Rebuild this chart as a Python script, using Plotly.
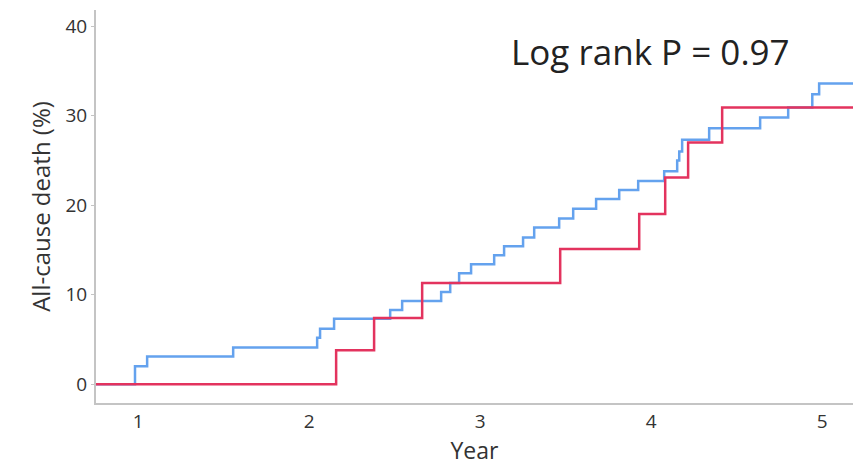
import plotly.graph_objects as go

# Cumulative all-cause death (%) by follow-up year, step points per group
blue_years = [0.0, 0.982, 1.053, 1.556, 2.047, 2.064, 2.146, 2.474, 2.544, 2.772, 2.825,
              2.877, 2.947, 3.082, 3.140, 3.251, 3.316, 3.462, 3.544, 3.678, 3.813,
              3.924, 4.076, 4.152, 4.164, 4.181, 4.339, 4.637, 4.801, 4.942, 4.982, 5.3]
blue_death = [0.0, 2.0, 3.1, 4.1, 5.2, 6.2, 7.3, 8.3, 9.3, 10.3, 11.3,
              12.4, 13.4, 14.4, 15.4, 16.4, 17.5, 18.5, 19.6, 20.7, 21.7,
              22.7, 23.8, 25.0, 26.0, 27.3, 28.6, 29.8, 30.9, 32.4, 33.6, 33.6]

red_years = [0.0, 2.158, 2.380, 2.661, 3.468, 3.930, 4.082, 4.216, 4.415, 5.3]
red_death = [0.0, 3.8, 7.4, 11.3, 15.1, 19.0, 23.1, 27.0, 30.9, 30.9]

x_ticks = [1, 2, 3, 4, 5]
y_ticks = [0, 10, 20, 30, 40]

BLUE = "#64a2ee"
RED = "#e3335e"
AXIS = "#c4c4c4"
TEXT = "#333333"

fig = go.Figure()
fig.add_trace(go.Scatter(x=blue_years, y=blue_death, mode="lines",
                         line=dict(shape="hv", color=BLUE, width=2.5),
                         showlegend=False, hoverinfo="skip"))
fig.add_trace(go.Scatter(x=red_years, y=red_death, mode="lines",
                         line=dict(shape="hv", color=RED, width=2.5),
                         showlegend=False, hoverinfo="skip"))

fig.add_annotation(text="Log rank P = 0.97", xref="paper", yref="paper",
                   x=0.733, y=0.895, xanchor="center", yanchor="middle",
                   showarrow=False, font=dict(family="Open Sans", size=35, color="#222222"))

fig.update_layout(
    width=853, height=466,
    margin=dict(l=96, r=0, t=10, b=63),
    plot_bgcolor="white", paper_bgcolor="white",
    font=dict(family="Open Sans", color=TEXT),
    xaxis=dict(range=[0.754, 5.18], tickvals=x_ticks, ticktext=[str(v) for v in x_ticks],
               showgrid=False, zeroline=False, showline=True, linecolor=AXIS, linewidth=2,
               ticks="", tickfont=dict(size=19, color=TEXT),
               title=dict(text="Year", font=dict(size=23, color=TEXT), standoff=8)),
    yaxis=dict(range=[-2.1, 41.8], tickvals=y_ticks, ticktext=[str(v) for v in y_ticks],
               showgrid=False, zeroline=False, showline=True, linecolor=AXIS, linewidth=2,
               ticks="outside", ticklen=3, tickcolor=AXIS, tickwidth=1,
               tickfont=dict(size=19, color=TEXT),
               title=dict(text="All-cause death (%)", font=dict(size=24, color=TEXT), standoff=8)),
)

fig.write_html("out.html")
